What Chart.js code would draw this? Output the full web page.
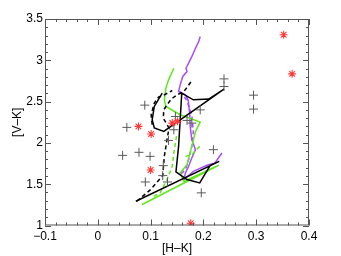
<!DOCTYPE html>
<html>
<head>
<meta charset="utf-8">
<script src="https://cdn.jsdelivr.net/npm/chart.js@4.4.1/dist/chart.umd.min.js"></script>
<style>
  html, body { margin: 0; padding: 0; background: #fff; }
  #wrap { width: 341px; height: 256px; position: relative; }
</style>
</head>
<body>
<div id="wrap"><canvas id="chart-hk"></canvas></div>
<script>
/* [H-K] vs [V-K] colour-colour diagram: tracks + observed stars */

// observed points (grey crosses)
const crossPts = [
  [0.239, 2.775], [0.239, 2.683], [0.295, 2.578], [0.295, 2.409],
  [0.089, 2.457], [0.055, 2.188], [0.047, 1.849], [0.078, 1.886],
  [0.099, 1.837], [0.090, 1.527], [0.124, 1.725], [0.123, 1.604],
  [0.132, 1.527], [0.134, 2.030], [0.144, 2.159], [0.147, 2.320],
  [0.169, 2.272], [0.178, 2.240], [0.194, 2.400], [0.219, 1.918],
  [0.196, 1.395]
];

// red asterisks
const starPts = [
  [0.352, 3.310], [0.368, 2.836], [0.077, 2.200], [0.101, 2.107],
  [0.100, 1.672], [0.176, 1.028], [0.141, 2.240], [0.151, 2.262]
];

// model tracks
const blackTrack = [
  [0.072, 1.294], [0.230, 1.777], [0.213, 1.729], [0.193, 1.515],
  [0.169, 1.556], [0.148, 1.648], [0.153, 1.958], [0.159, 2.602],
  [0.181, 2.522], [0.210, 2.530], [0.239, 2.651], [0.125, 2.139],
  [0.107, 2.180], [0.103, 2.280], [0.107, 2.441], [0.122, 2.602]
];
const blackDashA = [
  [0.074, 1.294], [0.100, 1.435], [0.123, 1.604], [0.126, 1.837],
  [0.131, 2.039], [0.135, 2.180], [0.124, 2.300], [0.125, 2.401],
  [0.131, 2.461], [0.139, 2.530], [0.150, 2.582], [0.163, 2.622],
  [0.178, 2.751]
];
const blackDashB = [
  [0.103, 2.220], [0.101, 2.341], [0.107, 2.481], [0.115, 2.554],
  [0.126, 2.582], [0.141, 2.634]
];
const greenTrack = [
  [0.144, 2.904], [0.134, 2.763], [0.129, 2.663], [0.126, 2.522],
  [0.129, 2.441], [0.156, 2.341], [0.194, 2.252], [0.185, 2.139],
  [0.178, 1.958], [0.169, 1.737], [0.156, 1.636], [0.163, 1.535],
  [0.229, 1.729], [0.084, 1.254]
];
const greenDashA = [
  [0.106, 1.354], [0.118, 1.394], [0.131, 1.556], [0.141, 1.717],
  [0.144, 1.878], [0.147, 1.998], [0.150, 2.119]
];
const greenDashB = [
  [0.193, 1.958], [0.178, 1.857], [0.166, 1.837]
];
const purpleTrack = [
  [0.194, 3.287], [0.191, 3.226], [0.185, 3.146], [0.178, 3.045],
  [0.172, 2.965], [0.167, 2.904], [0.169, 2.864], [0.161, 2.804],
  [0.156, 2.703], [0.153, 2.622], [0.166, 2.582], [0.171, 2.522],
  [0.174, 2.361], [0.175, 2.200], [0.178, 2.039], [0.185, 1.918],
  [0.178, 1.817], [0.172, 1.717], [0.166, 1.636], [0.163, 1.556],
  [0.181, 1.656], [0.207, 1.729], [0.222, 1.757], [0.235, 1.878]
];
const purpleDash = [
  [0.156, 2.622], [0.168, 2.522], [0.178, 2.341], [0.181, 2.139],
  [0.178, 1.958], [0.172, 1.797], [0.166, 1.676], [0.156, 1.616]
];

const xTicks = [-0.1, 0, 0.1, 0.2, 0.3, 0.4];
const yTicks = [1, 1.5, 2, 2.5, 3, 3.5];

const colGreen = '#62e61e';
const colPurple = '#a64dff';
const colRed = '#ff3a3a';
const colGrey = '#5a5a5a';

const toXY = arr => arr.map(p => ({ x: p[0], y: p[1] }));

function track(data, color, dashed) {
  return {
    data: toXY(data),
    showLine: true,
    borderColor: color,
    borderWidth: 1.5,
    borderDash: dashed ? [4, 3] : [],
    pointRadius: 0,
    fill: false,
    order: 2
  };
}

/* inward ticks on all four sides, IDL style */
const frameTicks = {
  id: 'frameTicks',
  afterDraw(chart) {
    const { ctx, chartArea: a, scales: { x, y } } = chart;
    ctx.save();
    ctx.strokeStyle = '#555';
    ctx.lineWidth = 1;
    ctx.strokeRect(a.left + 0.5, a.top + 0.5, a.right - a.left - 1, a.bottom - a.top - 1);
    ctx.beginPath();
    for (let i = 0; i <= 25; i++) {
      const v = -0.1 + i * 0.02;
      const px = Math.round(x.getPixelForValue(v)) + 0.5;
      const len = i % 5 === 0 ? 6 : 3;
      ctx.moveTo(px, a.bottom); ctx.lineTo(px, a.bottom - len);
      ctx.moveTo(px, a.top); ctx.lineTo(px, a.top + len);
    }
    for (let i = 0; i <= 25; i++) {
      const v = 1 + i * 0.1;
      const py = Math.round(y.getPixelForValue(v)) + 0.5;
      const len = i % 5 === 0 ? 6 : 3;
      ctx.moveTo(a.left, py); ctx.lineTo(a.left + len, py);
      ctx.moveTo(a.right, py); ctx.lineTo(a.right - len, py);
    }
    ctx.stroke();
    ctx.restore();
  }
};

const font = { family: "'Liberation Sans', Arial, sans-serif", size: 12 };
const noGrid = { display: false, drawTicks: false, tickLength: 0 };

new Chart(document.getElementById('chart-hk'), {
  type: 'scatter',
  data: {
    datasets: [
      {
        data: toXY(crossPts),
        pointStyle: 'cross',
        pointRadius: 4.5,
        borderColor: colGrey,
        borderWidth: 1,
        backgroundColor: colGrey,
        order: 1
      },
      {
        data: toXY(starPts),
        pointStyle: 'star',
        pointRadius: 4,
        borderColor: colRed,
        borderWidth: 1.1,
        backgroundColor: colRed,
        order: 0
      },
      track(blackTrack, '#000', false),
      track(blackDashA, '#000', true),
      track(blackDashB, '#000', true),
      track(greenTrack, colGreen, false),
      track(greenDashA, colGreen, true),
      track(greenDashB, colGreen, true),
      track(purpleTrack, colPurple, false),
      track(purpleDash, colPurple, true)
    ]
  },
  options: {
    responsive: true,
    maintainAspectRatio: false,
    animation: false,
    layout: { padding: { top: 19, right: 32, left: 0, bottom: 0 } },
    plugins: { legend: { display: false }, tooltip: { enabled: false } },
    scales: {
      x: {
        type: 'linear',
        min: -0.1,
        max: 0.4,
        afterBuildTicks: s => { s.ticks = xTicks.map(v => ({ value: v })); },
        afterFit: s => { s.height = 30.5; },
        grid: noGrid,
        border: { display: false },
        ticks: {
          color: '#000',
          font: font,
          padding: 4,
          maxRotation: 0,
          callback: v => (v < 0 ? '\u2212' + Math.abs(v) : String(Math.round(v * 10) / 10))
        },
        title: { display: true, text: '[H\u2013K]', color: '#000', font: font, padding: { top: 0, bottom: 0 } }
      },
      y: {
        type: 'linear',
        min: 1,
        max: 3.5,
        afterBuildTicks: s => { s.ticks = yTicks.map(v => ({ value: v })); },
        afterFit: s => { s.width = 45; },
        grid: noGrid,
        border: { display: false },
        ticks: {
          color: '#000',
          font: font,
          padding: 2,
          callback: v => String(Math.round(v * 10) / 10)
        },
        title: { display: true, text: '[V\u2013K]', color: '#000', font: font, padding: { top: 10, bottom: 0 } }
      }
    }
  },
  plugins: [frameTicks]
});
</script>
</body>
</html>
